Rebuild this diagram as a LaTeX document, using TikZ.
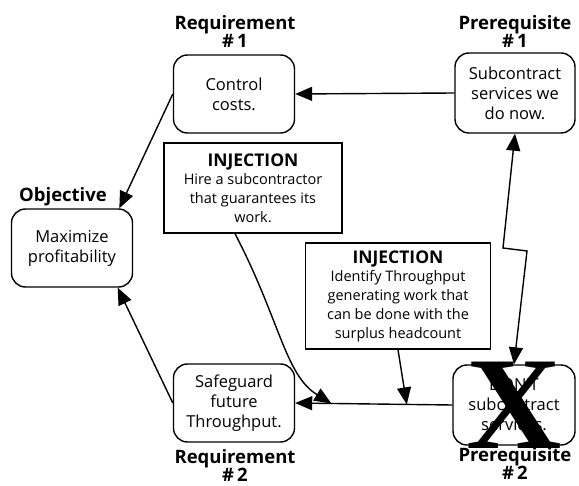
\documentclass[tikz,border=0pt]{standalone}
\usepackage{fontspec}
\setmainfont{Open Sans}
\newfontfamily\crossfont{Liberation Serif}
\usetikzlibrary{arrows.meta, calc}
\tikzset{
  block/.style = {rectangle, rounded corners=14pt, minimum width=121pt, minimum height=78pt,
                  align=center, draw, line width=1.4pt, inner sep=2pt,
                  font=\fontsize{16.5}{20}\selectfont},
  injbox/.style = {rectangle, align=center, draw, line width=1.4pt, inner sep=3pt,
                   font=\fontsize{14.5}{18.8}\selectfont},
  tag/.style = {align=center, inner sep=0pt, font=\bfseries\fontsize{18.5}{18}\selectfont},
  arrow/.style = {-{Triangle[length=17pt,width=14pt]}, line width=1.4pt},
  darrow/.style = {{Triangle[length=17pt,width=14pt]}-{Triangle[length=17pt,width=14pt]},
                   line width=1.4pt},
}
\newcommand{\injhead}{{\bfseries\fontsize{17.5}{18.8}\selectfont INJECTION}}

\begin{document}
\begin{tikzpicture}[x=1pt, y=-1pt,
  xmark/.style = {inner sep=0pt, font=\crossfont\bfseries\fontsize{132}{132}\selectfont},
]
\useasboundingbox (0,0) rectangle (579,486);

% Objective
\node[block] (obj) at (72,248) {Maximize\\profitability};
\node[tag] (objtag) at (63,197) {Objective};

% Requirements
\node[block] (req1) at (234,94) {Control\\costs.};
\node[tag] (req1tag) at (235,31) {Requirement\\\#\,1};
\node[block] (req2) at (234,403) {Safeguard\\future\\Throughput.};
\node[tag] (req2tag) at (235,465) {Requirement\\\#\,2};

% Prerequisites
\node[block, minimum width=120pt, minimum height=80pt] (pre1) at (515,93) {Subcontract\\services we\\do now.};
\node[tag] (pre1tag) at (515,31) {Prerequisite\\\#\,1};
\node[block, minimum width=122pt, minimum height=80pt] (pre2) at (514,405) {DON'T\\subcontract\\services.};
\node[tag] (pre2tag) at (515,463) {Prerequisite\\\#\,2};
\node[xmark] (cross) at (pre2.center) {X};

% Injections
\node[injbox, minimum width=178pt, minimum height=90pt] (inj1) at (253,188)
  {\injhead\\Hire a subcontractor\\that guarantees its\\work.};
\node[injbox, minimum width=185pt, minimum height=106pt] (inj2) at (398,296)
  {\injhead\\Identify Throughput\\generating work that\\can be done with the\\surplus headcount};

% Arrows
\coordinate (hit1) at ($(pre2.west)!0.77!(req2.east)$);
\coordinate (hit2) at ($(pre2.west)!0.29!(req2.east)$);
\coordinate (zz1) at (503,248);
\coordinate (zz2) at (527,251);

\draw[arrow] (req1.west) -- (obj.40);
\draw[arrow] (req2.west) -- (obj.-41);
\draw[arrow] (pre1.west) -- (req1.east);
\draw[arrow] (pre2.west) -- (req2.east);
\draw[arrow] ($(inj1.south)+(-18,0)$) .. controls (280,320) and (285,375) .. (hit1);
\draw[arrow] (inj2.south) -- (hit2);
\draw[darrow] (pre1.south) -- (zz1) -- (zz2) -- (pre2.north);
\end{tikzpicture}
\end{document}
